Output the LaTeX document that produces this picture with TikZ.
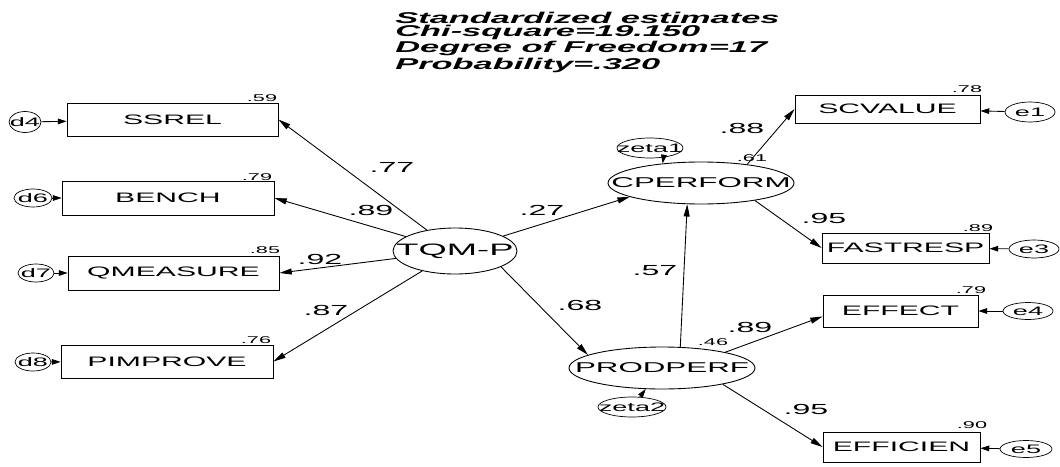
\documentclass[tikz,border=0pt]{standalone}
\usepackage{fontspec}
\newfontfamily\amos[FakeStretch=2.2]{Liberation Sans}
\usetikzlibrary{shapes.geometric, arrows.meta}
\newcommand{\ctrtext}[1]{\makebox[0pt]{#1}}

\begin{document}
\begin{tikzpicture}[x=0.02cm, y=-0.02cm,
    obs/.style={draw, rectangle, inner sep=0pt, line width=0.5pt,
        font=\amos\fontsize{7.8}{9}\selectfont},
    lat/.style={draw, ellipse, inner sep=0pt, line width=0.5pt,
        font=\amos\fontsize{8.1}{10}\selectfont},
    errc/.style={draw, ellipse, inner sep=0pt, line width=0.4pt,
        font=\amos\fontsize{7}{8}\selectfont},
    regr/.style={-{Triangle[length=7pt, width=3.4pt]}, line width=0.5pt},
    erra/.style={-{Triangle[length=5pt, width=3.2pt]}, line width=0.5pt},
    coef/.style={inner sep=0pt, font=\amos\fontsize{8.3}{10}\selectfont},
    rsq/.style={inner sep=0pt, font=\amos\fontsize{5.6}{7}\selectfont},
    titletext/.style={inner sep=0pt, align=left,
        font=\amos\bfseries\itshape\fontsize{8.9}{7.55}\selectfont},
]
\useasboundingbox (0,0) rectangle (1060,466);

%% --- title block ---
\node[titletext, anchor=north west] (title) at (395,11.5)
    {Standardized estimates\\Chi-square=19.150\\Degree of Freedom=17\\Probability=.320};

%% --- observed variables, left ---
\node[obs, minimum width=4.22cm, minimum height=0.66cm] (ssrel) at (172.5,119.5) {SSREL};
\node[obs, minimum width=4.24cm, minimum height=0.68cm] (bench) at (168,198) {BENCH};
\node[obs, minimum width=4.22cm, minimum height=0.68cm] (qmeasure) at (173.5,273) {QMEASURE};
\node[obs, minimum width=4.24cm, minimum height=0.66cm] (pimprove) at (167,361.5) {PIMPROVE};

%% --- observed variables, right ---
\node[obs, minimum width=3.7cm, minimum height=0.56cm] (scvalue) at (887.5,109) {SCVALUE};
\node[obs, minimum width=3.34cm, minimum height=0.6cm] (fastresp) at (905.5,248) {FASTRESP};
\node[obs, minimum width=3.1cm, minimum height=0.64cm] (effect) at (900.5,311) {EFFECT};
\node[obs, minimum width=3.14cm, minimum height=0.6cm] (efficien) at (901.5,447) {EFFICIEN};

%% --- latent variables ---
\node[lat, minimum width=2.48cm, minimum height=0.92cm,
    font=\amos\fontsize{9.4}{11}\selectfont] (tqmp) at (455,251) {\ctrtext{TQM-P}};
\node[lat, minimum width=3.72cm, minimum height=0.84cm] (cperform) at (701,183) {\ctrtext{CPERFORM}};
\node[lat, minimum width=3.72cm, minimum height=0.84cm] (prodperf) at (662,368) {\ctrtext{PRODPERF}};

%% --- residuals ---
\node[errc, minimum width=1.32cm, minimum height=0.4cm] (zeta1) at (650,148) {\ctrtext{zeta1}};
\node[errc, minimum width=1.36cm, minimum height=0.4cm] (zeta2) at (632,407) {\ctrtext{zeta2}};
\node[errc, minimum width=0.64cm, minimum height=0.42cm] (d4) at (25,122) {\ctrtext{d4}};
\node[errc, minimum width=0.76cm, minimum height=0.36cm] (d6) at (33,198) {\ctrtext{d6}};
\node[errc, minimum width=0.72cm, minimum height=0.36cm] (d7) at (36,273) {\ctrtext{d7}};
\node[errc, minimum width=0.72cm, minimum height=0.36cm] (d8) at (33,362) {\ctrtext{d8}};
\node[errc, minimum width=1.0cm, minimum height=0.4cm] (e1) at (1030,112) {\ctrtext{e1}};
\node[errc, minimum width=1.0cm, minimum height=0.36cm] (e3) at (1034,249) {\ctrtext{e3}};
\node[errc, minimum width=1.0cm, minimum height=0.34cm] (e4) at (1028,311) {\ctrtext{e4}};
\node[errc, minimum width=1.04cm, minimum height=0.34cm] (e5) at (1026,449) {\ctrtext{e5}};

%% --- loadings of TQM-P ---
\draw[regr] (tqmp) -- (ssrel.east);
\draw[regr] (tqmp) -- (bench.east);
\draw[regr] (tqmp) -- (qmeasure.east);
\draw[regr] (tqmp) -- (pimprove.east);

%% --- structural paths ---
\draw[regr] (tqmp) -- (cperform.191);
\draw[regr] (tqmp.-19) -- (prodperf.170);
\draw[regr] (prodperf.49) -- (cperform.237);

%% --- loadings of CPERFORM and PRODPERF ---
\draw[regr] (cperform.22) -- (scvalue.west);
\draw[regr] (cperform.-18) -- (fastresp.west);
\draw[regr] (prodperf.14) -- (effect.184);
\draw[regr] (prodperf.-15) -- (efficien.west);

%% --- residual arrows ---
\draw[erra] (zeta1.-35) -- (cperform.153);
\draw[erra] (zeta2) -- (prodperf);
\draw[erra] (d4) -- (ssrel);
\draw[erra] (d6) -- (bench);
\draw[erra] (d7) -- (qmeasure);
\draw[erra] (d8) -- (pimprove);
\draw[erra] (e1) -- (scvalue);
\draw[erra] (e3) -- (fastresp);
\draw[erra] (e4) -- (effect);
\draw[erra] (e5) -- (efficien);

%% --- path coefficients ---
\node[coef] (k77) at (392,167) {.77};
\node[coef] (k89a) at (371,210) {.89};
\node[coef] (k92) at (320,259) {.92};
\node[coef] (k87) at (326,310) {.87};
\node[coef] (k27) at (542,210) {.27};
\node[coef] (k68) at (580,305) {.68};
\node[coef] (k57) at (655,271) {.57};
\node[coef] (k88) at (742,128) {.88};
\node[coef] (k95a) at (824,218) {.95};
\node[coef] (k89b) at (750,327) {.89};
\node[coef] (k95b) at (806,409) {.95};

%% --- squared multiple correlations ---
\node[rsq] (r59) at (262,98) {.59};
\node[rsq] (r79a) at (257,177) {.79};
\node[rsq] (r85) at (265,250) {.85};
\node[rsq] (r76) at (256,340) {.76};
\node[rsq] (r78) at (967,89) {.78};
\node[rsq] (r89) at (978,228) {.89};
\node[rsq] (r79b) at (971,290) {.79};
\node[rsq] (r90) at (972,425) {.90};
\node[rsq] (r61) at (752,158) {.61};
\node[rsq] (r46) at (713,342) {.46};

\end{tikzpicture}
\end{document}
